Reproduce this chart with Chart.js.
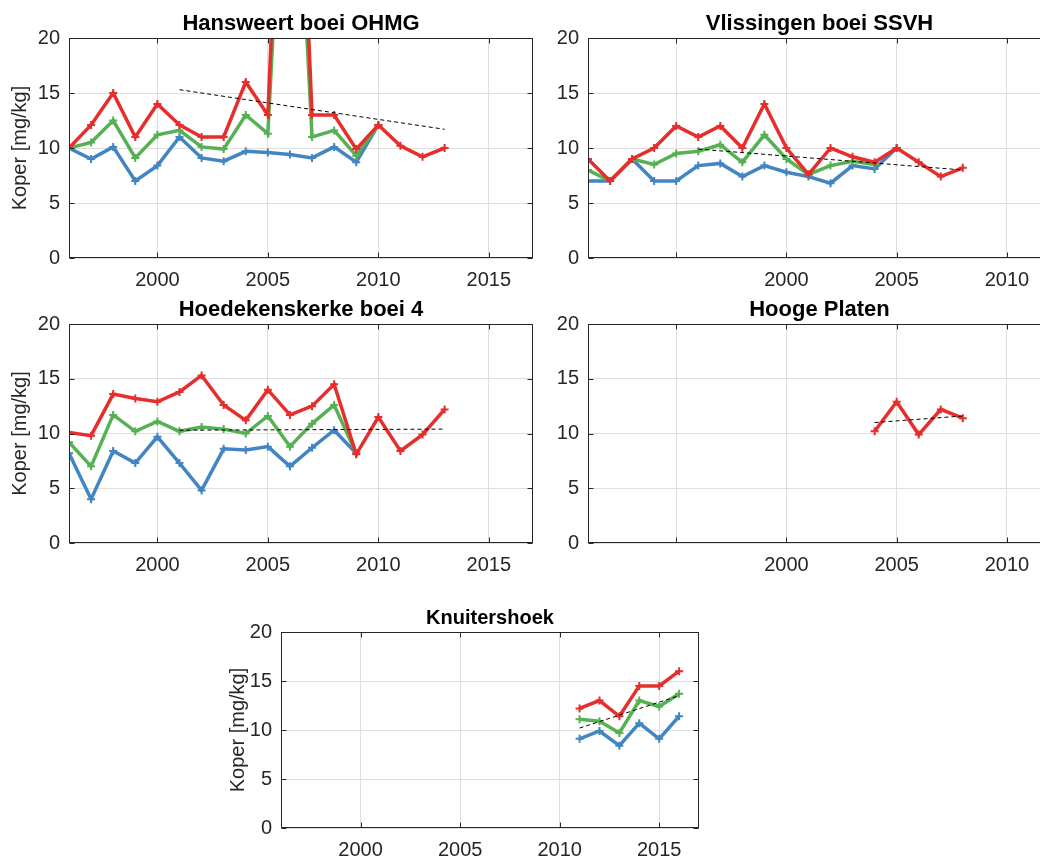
<!DOCTYPE html>
<html>
<head>
<meta charset="utf-8">
<script src="https://cdn.jsdelivr.net/npm/chart.js@4.4.1/dist/chart.umd.min.js"></script>
<style>
  html, body { margin: 0; padding: 0; background: #fff; overflow: hidden; width: 1040px; height: 859px; }
  .panel { position: absolute; }
</style>
</head>
<body>
<div class="panel" style="left:0px;top:0px"><canvas id="hans" width="545" height="300"></canvas></div>
<div class="panel" style="left:530px;top:0px"><canvas id="vlis" width="530" height="300"></canvas></div>
<div class="panel" style="left:0px;top:286px"><canvas id="hoed" width="545" height="300"></canvas></div>
<div class="panel" style="left:530px;top:286px"><canvas id="hoog" width="530" height="300"></canvas></div>
<div class="panel" style="left:212px;top:594px"><canvas id="knui" width="499" height="274"></canvas></div>
<script>
// jaren per locatie
const yearsHans = [1996, 1997, 1998, 1999, 2000, 2001, 2002, 2003, 2004, 2005, 2006, 2007, 2008, 2009, 2010, 2011, 2012, 2013];
const yearsVlis = [1991, 1992, 1993, 1994, 1995, 1996, 1997, 1998, 1999, 2000, 2001, 2002, 2003, 2004, 2005, 2006, 2007, 2008];
const yearsHoed = [1996, 1997, 1998, 1999, 2000, 2001, 2002, 2003, 2004, 2005, 2006, 2007, 2008, 2009, 2010, 2011, 2012, 2013];
const yearsHoog = [2004, 2005, 2006, 2007, 2008];
const yearsKnui = [2011, 2012, 2013, 2014, 2015, 2016];

// Koper [mg/kg]
const hansBlue  = [10.0, 9.0, 10.1, 7.0, 8.4, 11.0, 9.1, 8.8, 9.7, 9.6, 9.4, 9.1, 10.1, 8.7, 12.1];
const hansGreen = [10.0, 10.5, 12.5, 9.1, 11.2, 11.6, 10.1, 9.9, 13.0, 11.3, 50.0, 11.0, 11.6, 9.3, 12.1];
const hansRed   = [10.0, 12.1, 15.0, 11.0, 14.0, 12.1, 11.0, 11.0, 16.0, 13.0, 60.0, 13.0, 13.0, 9.9, 12.1, 10.2, 9.2, 10.0];
const hansTrendX = [2001, 2013];
const hansTrendY = [15.3, 11.7];

const vlisBlue  = [7.0, 7.0, 9.0, 7.0, 7.0, 8.4, 8.6, 7.4, 8.4, 7.8, 7.4, 6.8, 8.4, 8.1, 10.0];
const vlisGreen = [8.0, 7.0, 9.0, 8.5, 9.5, 9.7, 10.3, 8.7, 11.2, 9.0, 7.6, 8.4, 8.8, 8.5];
const vlisRed   = [9.0, 7.0, 9.0, 10.0, 12.0, 11.0, 12.0, 10.0, 14.0, 10.0, 7.6, 10.0, 9.2, 8.7, 10.0, 8.7, 7.4, 8.2];
const vlisTrendX = [1996, 2008];
const vlisTrendY = [9.9, 8.0];

const hoedBlue  = [8.2, 4.0, 8.4, 7.3, 9.7, 7.3, 4.8, 8.6, 8.5, 8.8, 7.0, 8.7, 10.3, 8.2];
const hoedGreen = [9.2, 7.0, 11.7, 10.2, 11.1, 10.2, 10.6, 10.4, 10.0, 11.6, 8.8, 10.9, 12.6, 8.2];
const hoedRed   = [10.1, 9.8, 13.6, 13.2, 12.9, 13.8, 15.3, 12.6, 11.2, 14.0, 11.7, 12.5, 14.5, 8.1, 11.5, 8.4, 9.9, 12.2];
const hoedTrendX = [2001, 2013];
const hoedTrendY = [10.3, 10.4];

const hoogRed   = [10.2, 12.9, 9.9, 12.2, 11.4];
const hoogTrendX = [2004, 2008];
const hoogTrendY = [11.0, 11.6];

const knuiBlue  = [9.1, 9.9, 8.4, 10.7, 9.1, 11.4];
const knuiGreen = [11.1, 10.9, 9.7, 13.0, 12.4, 13.7];
const knuiRed   = [12.2, 13.0, 11.4, 14.5, 14.5, 16.0];
const knuiTrendX = [2011, 2016];
const knuiTrendY = [10.2, 13.5];

// assen
const xTicksA = [2000, 2005, 2010, 2015];
const xTicksB = [1995, 2000, 2005, 2010];
const xLabelsB = ['', '2000', '2005', '2010'];
const yTicks = [0, 5, 10, 15, 20];

const BLUE = '#4285c2', GREEN = '#55b152', RED = '#e62e2d';
const AXIS = '#262626';
const FONT = 'Liberation Sans, Arial, sans-serif';

function pts(xs, ys) {
  return ys.map((v, i) => ({ x: xs[i], y: v }));
}

function serie(xs, ys, color) {
  return {
    data: pts(xs, ys),
    borderColor: color,
    backgroundColor: color,
    borderWidth: 3.5,
    pointStyle: 'cross',
    pointRadius: 4,
    pointBorderWidth: 2,
    pointBorderColor: color,
    tension: 0
  };
}

function trend(xs, ys) {
  return {
    data: pts(xs, ys),
    borderColor: '#000',
    borderWidth: 1,
    borderDash: [4, 3],
    pointRadius: 0,
    tension: 0
  };
}

// MATLAB-achtige rand met ticks naar binnen
const boxPlugin = {
  id: 'box',
  afterDraw(chart) {
    const { ctx, chartArea: a, scales } = chart;
    const l = Math.round(a.left) + 0.5, r = Math.round(a.right) - 0.5;
    const t = Math.round(a.top) + 0.5, b = Math.round(a.bottom) - 0.5;
    ctx.save();
    ctx.strokeStyle = AXIS;
    ctx.lineWidth = 1;
    ctx.strokeRect(l, t, r - l, b - t);
    ctx.beginPath();
    scales.x.ticks.forEach(tk => {
      const px = Math.round(scales.x.getPixelForValue(tk.value)) + 0.5;
      ctx.moveTo(px, b); ctx.lineTo(px, b - 5);
      ctx.moveTo(px, t); ctx.lineTo(px, t + 5);
    });
    scales.y.ticks.forEach(tk => {
      const py = Math.round(scales.y.getPixelForValue(tk.value)) + 0.5;
      ctx.moveTo(l, py); ctx.lineTo(l + 5, py);
      ctx.moveTo(r, py); ctx.lineTo(r - 5, py);
    });
    ctx.stroke();
    ctx.restore();
  }
};

function maakGrafiek(id, cfg) {
  const ctx = document.getElementById(id);
  new Chart(ctx, {
    type: 'line',
    data: { datasets: cfg.datasets },
    options: {
      responsive: false,
      animation: false,
      events: [],
      layout: { padding: { right: cfg.rightPad, left: 0, top: 0, bottom: 0 } },
      plugins: {
        legend: { display: false },
        tooltip: { enabled: false },
        title: {
          display: true,
          text: cfg.title,
          fullSize: false,
          color: '#000',
          font: { family: FONT, size: cfg.titleSize, weight: 'bold', lineHeight: '26px' },
          padding: { top: 11, bottom: 1 }
        }
      },
      scales: {
        x: {
          type: 'linear',
          min: cfg.xmin,
          max: cfg.xmax,
          afterBuildTicks: s => { s.ticks = cfg.xTicks.map(v => ({ value: v })); },
          afterFit: s => { s.height = cfg.xHeight; },
          ticks: {
            color: AXIS,
            padding: 10,
            maxRotation: 0,
            autoSkip: false,
            font: { family: FONT, size: 20, lineHeight: '24px' },
            callback: (v, i) => cfg.xLabels ? cfg.xLabels[i] : String(v)
          },
          grid: { color: '#dfdfdf', drawTicks: false },
          border: { display: false }
        },
        y: {
          min: 0,
          max: 20,
          afterBuildTicks: s => { s.ticks = yTicks.map(v => ({ value: v })); },
          afterFit: s => { s.width = cfg.yWidth; },
          ticks: {
            color: AXIS,
            padding: 9,
            font: { family: FONT, size: 20, lineHeight: '24px' },
            callback: v => String(v)
          },
          grid: { color: '#dfdfdf', drawTicks: false },
          border: { display: false },
          title: {
            display: cfg.ylabel,
            text: 'Koper [mg/kg]',
            color: AXIS,
            font: { family: FONT, size: 20, lineHeight: '24px' },
            padding: { top: cfg.yTitlePad, bottom: 0 }
          }
        }
      }
    },
    plugins: [boxPlugin]
  });
}

maakGrafiek('hans', {
  title: 'Hansweert boei OHMG', titleSize: 22, xmin: 1996, xmax: 2017, xTicks: xTicksA,
  yWidth: 69, xHeight: 42, rightPad: 12, ylabel: true, yTitlePad: 8,
  datasets: [
    trend(hansTrendX, hansTrendY),
    serie(yearsHans, hansRed, RED),
    serie(yearsHans, hansGreen, GREEN),
    serie(yearsHans, hansBlue, BLUE)
  ]
});

maakGrafiek('vlis', {
  title: 'Vlissingen boei SSVH', titleSize: 22, xmin: 1991, xmax: 2012, xTicks: xTicksB, xLabels: xLabelsB,
  yWidth: 58, xHeight: 42, rightPad: 9, ylabel: false, yTitlePad: 0,
  datasets: [
    trend(vlisTrendX, vlisTrendY),
    serie(yearsVlis, vlisRed, RED),
    serie(yearsVlis, vlisGreen, GREEN),
    serie(yearsVlis, vlisBlue, BLUE)
  ]
});

maakGrafiek('hoed', {
  title: 'Hoedekenskerke boei 4', titleSize: 22, xmin: 1996, xmax: 2017, xTicks: xTicksA,
  yWidth: 69, xHeight: 43, rightPad: 12, ylabel: true, yTitlePad: 8,
  datasets: [
    trend(hoedTrendX, hoedTrendY),
    serie(yearsHoed, hoedRed, RED),
    serie(yearsHoed, hoedGreen, GREEN),
    serie(yearsHoed, hoedBlue, BLUE)
  ]
});

maakGrafiek('hoog', {
  title: 'Hooge Platen', titleSize: 22, xmin: 1991, xmax: 2012, xTicks: xTicksB, xLabels: xLabelsB,
  yWidth: 58, xHeight: 43, rightPad: 9, ylabel: false, yTitlePad: 0,
  datasets: [
    trend(hoogTrendX, hoogTrendY),
    serie(yearsHoog, hoogRed, RED)
  ]
});

maakGrafiek('knui', {
  title: 'Knuitershoek', titleSize: 20, xmin: 1996, xmax: 2017, xTicks: xTicksA,
  yWidth: 69, xHeight: 40, rightPad: 12, ylabel: true, yTitlePad: 14,
  datasets: [
    trend(knuiTrendX, knuiTrendY),
    serie(yearsKnui, knuiRed, RED),
    serie(yearsKnui, knuiGreen, GREEN),
    serie(yearsKnui, knuiBlue, BLUE)
  ]
});
</script>
</body>
</html>
